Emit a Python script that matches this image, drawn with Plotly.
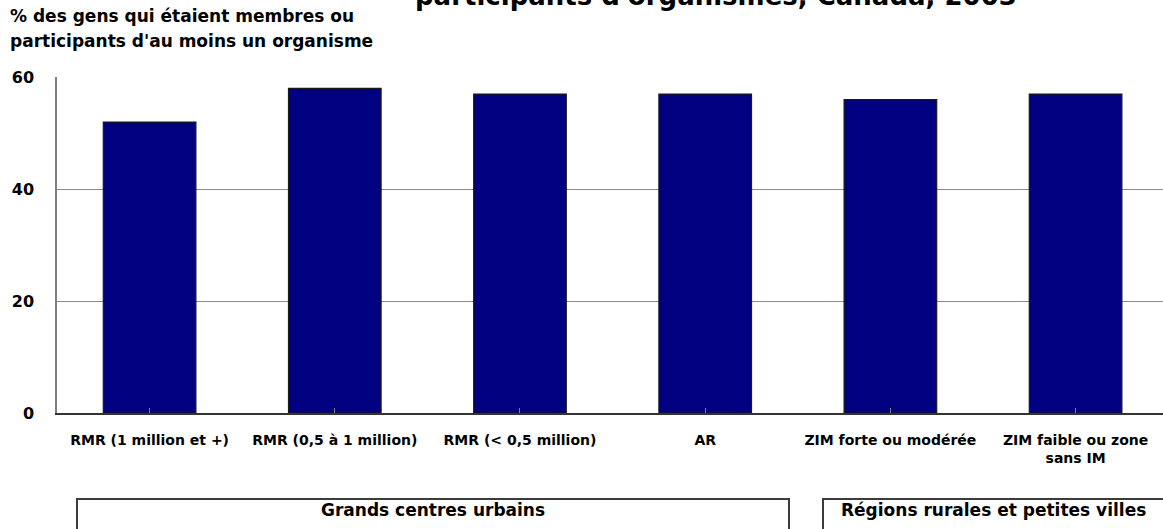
import plotly.graph_objects as go

# Share of people who were members of or participants in at least one organization
categories = [
    "RMR (1 million et +)",
    "RMR (0,5 à 1 million)",
    "RMR (< 0,5 million)",
    "AR",
    "ZIM forte ou modérée",
    "ZIM faible ou zone<br>sans IM",
]
values = [52, 58, 57, 57, 56, 57]
y_ticks = [0, 20, 40, 60]

title_text = "participants d'organismes, Canada, 2003"
y_title_lines = ["% des gens qui étaient membres ou", "participants d'au moins un organisme"]
group_labels = ["Grands centres urbains", "Régions rurales et petites villes"]

W, H = 1163, 529
L, T, B = 57, 77, 116
PLOT_W = W - L
PLOT_H = H - T - B
FONT = "DejaVu Sans"


def px_x(px):
    return (px - L) / PLOT_W


def px_y(py):
    return (H - B - py) / PLOT_H


fig = go.Figure(
    go.Bar(
        x=list(range(len(categories))),
        y=values,
        width=0.5,
        marker=dict(color="#000080", line=dict(color="#1a1a1a", width=1.2)),
        hoverinfo="skip",
    )
)

annotations = [
    dict(text=f"<b>{title_text}</b>", x=px_x(716), y=px_y(6), xanchor="center",
         yanchor="bottom", yshift=-7, font=dict(size=26, color="#000000")),
]
for line, base in zip(y_title_lines, [23, 48]):
    annotations.append(
        dict(text=f"<b>{line}</b>", x=px_x(8), y=px_y(base), xanchor="left",
             yanchor="bottom", yshift=-5, font=dict(size=17, color="#000000"))
    )

# Category group boxes under the axis
boxes = [(77, 789), (823, 1172)]
label_centres = [433, 994]
shapes = []
for (x0, x1), cx, label in zip(boxes, label_centres, group_labels):
    shapes.append(dict(type="rect", xref="paper", yref="paper",
                       x0=px_x(x0), x1=px_x(x1), y0=px_y(499), y1=px_y(560),
                       line=dict(color="#3c3c3c", width=2), fillcolor="rgba(0,0,0,0)"))
    annotations.append(
        dict(text=f"<b>{label}</b>", x=px_x(cx), y=px_y(517),
             xanchor="center", yanchor="bottom", yshift=-5,
             font=dict(size=17, color="#000000"))
    )

for a in annotations:
    a.update(xref="paper", yref="paper", showarrow=False)

fig.update_layout(
    width=W,
    height=H,
    margin=dict(l=L, r=0, t=T, b=B, pad=0),
    paper_bgcolor="white",
    plot_bgcolor="white",
    font=dict(family=FONT, color="#000000"),
    showlegend=False,
    annotations=annotations,
    shapes=shapes,
    xaxis=dict(
        range=[-0.5, 5.472],
        tickmode="array",
        tickvals=list(range(len(categories))),
        ticktext=[f"<b>{c}</b>" for c in categories],
        tickson="boundaries",
        ticks="inside",
        ticklen=5,
        tickcolor="#808080",
        tickfont=dict(size=14, family=FONT),
        showline=True,
        linecolor="#333333",
        linewidth=1.5,
        showgrid=False,
        zeroline=False,
        ticklabelstandoff=13,
    ),
    yaxis=dict(
        range=[0, 60.05],
        tickmode="array",
        tickvals=y_ticks,
        ticktext=[f"<b>{v}</b>" for v in y_ticks],
        tickfont=dict(size=16, family=FONT),
        showline=True,
        linecolor="#808080",
        linewidth=1.5,
        showgrid=True,
        gridcolor="#8c8c8c",
        gridwidth=1.2,
        zeroline=False,
        ticks="",
        ticklabelstandoff=18,
    ),
)

fig.write_html("out.html")
